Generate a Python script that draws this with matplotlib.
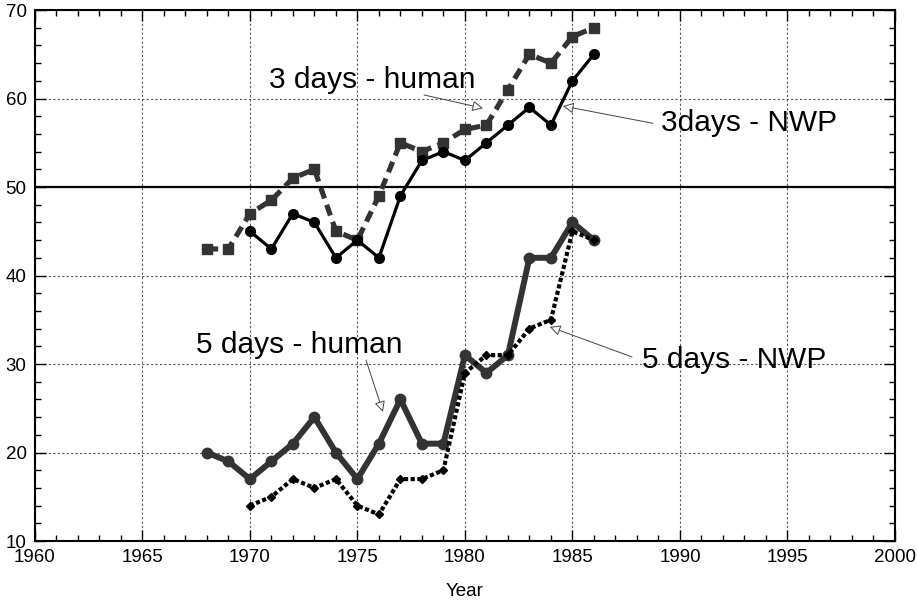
import matplotlib
matplotlib.use("Agg")
import matplotlib.pyplot as plt
from matplotlib.ticker import MultipleLocator

years_3h = [1968, 1969, 1970, 1971, 1972, 1973, 1974, 1975, 1976, 1977,
            1978, 1979, 1980, 1981, 1982, 1983, 1984, 1985, 1986]
vals_3h = [43, 43, 47, 48.5, 51, 52, 45, 44, 49, 55,
           54, 55, 56.5, 57, 61, 65, 64, 67, 68]

years_3n = [1970, 1971, 1972, 1973, 1974, 1975, 1976, 1977, 1978,
            1979, 1980, 1981, 1982, 1983, 1984, 1985, 1986]
vals_3n = [45, 43, 47, 46, 42, 44, 42, 49, 53,
           54, 53, 55, 57, 59, 57, 62, 65]

years_5h = [1968, 1969, 1970, 1971, 1972, 1973, 1974, 1975, 1976, 1977,
            1978, 1979, 1980, 1981, 1982, 1983, 1984, 1985, 1986]
vals_5h = [20, 19, 17, 19, 21, 24, 20, 17, 21, 26,
           21, 21, 31, 29, 31, 42, 42, 46, 44]

years_5n = [1970, 1971, 1972, 1973, 1974, 1975, 1976, 1977, 1978,
            1979, 1980, 1981, 1982, 1983, 1984, 1985, 1986]
vals_5n = [14, 15, 17, 16, 17, 14, 13, 17, 17,
           18, 29, 31, 31, 34, 35, 45, 44]

xticks = [1960, 1965, 1970, 1975, 1980, 1985, 1990, 1995, 2000]
yticks = [10, 20, 30, 40, 50, 60, 70]

plt.rcParams['font.family'] = ['Liberation Sans', 'DejaVu Sans']

fig = plt.figure(figsize=(9.17, 6.0), dpi=100)
ax = fig.add_axes([0.038, 0.0983, 0.938, 0.885])

ax.set_xlim(1960, 2000)
ax.set_ylim(10, 70)
ax.set_xticks(xticks)
ax.set_yticks(yticks)
ax.xaxis.set_minor_locator(MultipleLocator(1))
ax.yaxis.set_minor_locator(MultipleLocator(2))
ax.tick_params(which='both', direction='in', top=True, right=True, width=1.0)
ax.tick_params(which='major', length=8, labelsize=13.5)
ax.tick_params(axis='x', which='major', pad=6)
ax.tick_params(axis='y', which='major', pad=6)
ax.tick_params(which='minor', length=4)
for s in ax.spines.values():
    s.set_linewidth(1.5)

ax.grid(True, which='major', linestyle=(0, (2, 2)), color='#555555', linewidth=0.8)
ax.set_axisbelow(True)

ax.axhline(50, color='black', lw=1.6, zorder=2)

ax.plot(years_3h, vals_3h, color='#333333', lw=3.7, linestyle=(0, (2.2, 1.3)),
        marker='s', ms=7, zorder=3)
ax.plot(years_3n, vals_3n, color='black', lw=2.3, marker='o', ms=7, zorder=4)
ax.plot(years_5h, vals_5h, color='#333333', lw=4.3, marker='o', ms=7.5, zorder=3)
ax.plot(years_5n, vals_5n, color='black', lw=3.0, linestyle=(0, (1, 0.6)),
        dash_capstyle='butt', marker='D', ms=4, zorder=4)

ax.set_xlabel('Year', fontsize=13.5, labelpad=12)

arrow = dict(arrowstyle='-|>', fc='white', ec='#444444', lw=0.7, mutation_scale=16,
             shrinkA=0, shrinkB=0)

ax.text(1975.7, 62.1, '3 days - human', fontsize=21.5, ha='center', va='center', zorder=6)
ax.annotate('', xy=(1980.84, 58.9), xytext=(1978.1, 60.4), arrowprops=arrow, zorder=6)

ax.text(1989.1, 57.2, '3days - NWP', fontsize=21.5, ha='left', va='center', zorder=6)
ax.annotate('', xy=(1984.56, 59.15), xytext=(1988.74, 57.2), arrowprops=arrow, zorder=6)

ax.text(1972.3, 32.1, '5 days - human', fontsize=21.5, ha='center', va='center', zorder=6)
ax.annotate('', xy=(1976.19, 24.6), xytext=(1975.4, 30.45), arrowprops=arrow, zorder=6)

ax.text(1988.23, 30.45, '5 days - NWP', fontsize=21.5, ha='left', va='center', zorder=6)
ax.annotate('', xy=(1983.95, 34.2), xytext=(1987.77, 30.8), arrowprops=arrow, zorder=6)

fig.savefig('out.png', dpi=100)
